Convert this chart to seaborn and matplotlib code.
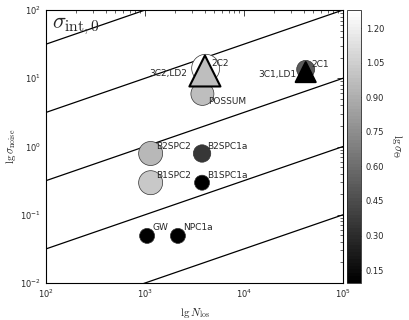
import matplotlib
matplotlib.use('Agg')
import matplotlib.pyplot as plt
from matplotlib.colors import Normalize
import seaborn as sns
import numpy as np

# Source data
circle_names = ['GW', 'NPC1a', 'B1SPC2', 'B1SPC1a', 'B2SPC2', 'B2SPC1a', 'POSSUM', '2C2', '2C1']
circle_n_los = [1050, 2150, 1140, 3770, 1140, 3770, 3800, 4100, 42000]
circle_sigma_noise = [0.049, 0.049, 0.295, 0.295, 0.79, 0.79, 5.9, 14.0, 13.5]
circle_sigma_theta = [0.094, 0.094, 1.02, 0.094, 0.95, 0.35, 0.97, 1.278, 0.51]
circle_size = [117, 117, 299, 117, 299, 157, 274, 406, 168]

tri_names = ['3C2,LD2', '3C1,LD1']
tri_n_los = [4030, 42000]
tri_sigma_noise = [12.8, 12.3]
tri_sigma_theta = [0.97, 0.094]
tri_size = [500, 207]

# sigma_int,0 guide lines (sigma at N=1e2 and N=1e5)
guide_n = [1e2, 1e5]
guide_lo = [31.6, 3.16, 0.316, 0.0316, 0.00316]
guide_hi = [1000, 100, 10, 1, 0.1]

cbar_ticks = [0.15, 0.30, 0.45, 0.60, 0.75, 0.90, 1.05, 1.20]

sns.set_style('white')
plt.rcParams['font.family'] = ['DejaVu Sans']
plt.rcParams['mathtext.fontset'] = 'cm'
plt.rcParams['xtick.direction'] = 'in'
plt.rcParams['ytick.direction'] = 'in'
plt.rcParams['xtick.top'] = True
plt.rcParams['ytick.right'] = True

fig = plt.figure(figsize=(4.09, 3.2), dpi=100)
ax = fig.add_axes([0.1125, 0.1156, 0.7261, 0.8531])
cax = fig.add_axes([0.848, 0.1156, 0.034, 0.8531])

cmap = plt.get_cmap('gray', 80)
norm = Normalize(vmin=0.094, vmax=1.278)

for lo, hi in zip(guide_lo, guide_hi):
    ax.plot(guide_n, [lo, hi], color='black', lw=0.9, zorder=1)

sc = ax.scatter(circle_n_los, circle_sigma_noise, c=circle_sigma_theta, s=circle_size,
                cmap=cmap, norm=norm, marker='o', edgecolors='#333333', linewidths=0.5, zorder=3)
ax.scatter(tri_n_los, tri_sigma_noise, c=tri_sigma_theta, s=tri_size,
           cmap=cmap, norm=norm, marker='^', edgecolors='black', linewidths=1.5, zorder=4)

# label offsets in points
circle_offsets = {'GW': (4, 3), 'NPC1a': (4, 3), 'B1SPC2': (4, 2), 'B1SPC1a': (4, 2),
                  'B2SPC2': (4, 2), 'B2SPC1a': (4, 2), 'POSSUM': (4, -9), '2C2': (4, 0), '2C1': (4, 0)}
tri_offsets = {'3C2,LD2': (-13, -5), '3C1,LD1': (-6.5, -5)}
for name, x, y in zip(circle_names, circle_n_los, circle_sigma_noise):
    ax.annotate(name, (x, y), xytext=circle_offsets[name], textcoords='offset points',
                fontsize=6.5, ha='left', va='bottom', zorder=5)
for name, x, y in zip(tri_names, tri_n_los, tri_sigma_noise):
    ax.annotate(name, (x, y), xytext=tri_offsets[name], textcoords='offset points',
                fontsize=6.5, ha='right', va='bottom', zorder=5)

ax.text(0.02, 0.98, r'$\sigma_{\rm int,0}$', transform=ax.transAxes,
        fontsize=16, ha='left', va='top')

ax.set_xscale('log')
ax.set_yscale('log')
ax.set_xlim(1e2, 1e5)
ax.set_ylim(1e-2, 1e2)
ax.set_xlabel(r'$\lg N_{\rm los}$', fontsize=8, labelpad=4)
ax.set_ylabel(r'$\lg \sigma_{\rm noise}$', fontsize=8, labelpad=2)
ax.tick_params(which='major', labelsize=6, length=4, width=0.6)
ax.tick_params(which='minor', length=2, width=0.5)
for sp in ax.spines.values():
    sp.set_linewidth(0.8)
    sp.set_color('black')

cb = fig.colorbar(sc, cax=cax, ticks=cbar_ticks)
cb.ax.set_yticklabels([f'{t:.2f}' for t in cbar_ticks])
cb.ax.tick_params(labelsize=6, length=2, width=0.5, direction='in')
cb.set_label(r'$\lg \sigma_\Theta$', rotation=270, fontsize=8, labelpad=14)
cb.outline.set_linewidth(0.6)

fig.savefig('out.png', dpi=100)
